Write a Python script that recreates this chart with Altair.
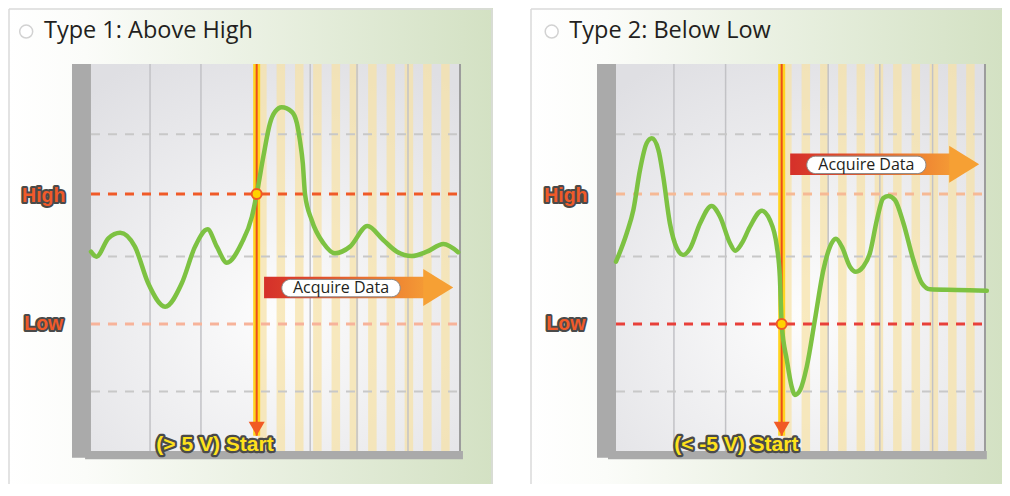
import altair as alt
import pandas as pd

# ---------------- values ----------------
# time runs 0..100 across each plot area, voltage in volts (High = +5 V, Low = -5 V)
above_t = [0, 1.5, 4.7, 7.9, 11.9, 15.5, 20.1, 24.6, 28.2, 31.6, 34.1, 36.8, 40.8, 43.6, 44.9,
           46.7, 48.5, 49.9, 51.7, 54.4, 55.8, 56.6, 57.4, 58.0, 59.8, 63.0, 66.1, 70.2, 74.9,
           79.2, 82.9, 86.9, 91.0, 95.5, 99.5]
above_v = [0.56, 0.18, 1.59, 2.02, 0.95, -1.87, -3.67, -1.87, 0.95, 2.28, 0.95, -0.28, 1.21, 3.25, 5.0,
           7.87, 10.44, 11.33, 11.67, 11.33, 10.44, 9.15, 7.36, 4.98, 3.0, 1.21, 0.44, 0.95, 2.54,
           1.46, 0.56, 0.23, 0.56, 1.15, 0.52]

below_t = [0, 2.9, 4.7, 6.5, 8.3, 9.7, 11.5, 12.8, 14.6, 16.5, 18.2, 20.1, 22.8, 25.9, 28.2, 30.9,
           32.3, 34.1, 36.3, 39.5, 41.7, 43.6, 44.4, 44.9, 46.3, 47.6, 48.5, 49.9, 51.7, 53.9, 56.2,
           58.0, 59.6, 61.2, 63.4, 65.0, 67.0, 68.8, 70.7, 72.4, 73.8, 75.6, 77.9, 80.6, 82.9, 85.1,
           92.3, 100.5]
below_v = [-0.21, 1.98, 3.77, 6.85, 8.90, 9.28, 8.38, 6.33, 2.75, 0.82, 0.31, 0.82, 2.75, 4.08, 3.25,
           1.21, 0.64, 1.21, 2.48, 3.72, 3.0, 0.95, -1.36, -5.0, -7.77, -9.82, -10.46, -10.08, -8.28,
           -4.69, -0.85, 0.95, 1.56, 0.95, -0.59, -0.98, -0.59, 0.44, 3.0, 4.67, 4.85, 4.54, 2.75,
           -0.08, -1.87, -2.33, -2.38, -2.44]

titles = ["Type 1: Above High", "Type 2: Below Low"]
start_labels = ["(> 5 V) Start", "(< -5 V) Start"]
level_names = ["High", "Low"]
level_values = [5, -5]
trigger_values = [5, -5]
gray_levels = [9.6, 0.2, -10.2]
vgrid_1 = [16.0, 29.8, 59.4, 72.1, 85.9]
vgrid_2 = [15.7, 29.7, 57.5, 71.5, 85.8]
stripe_starts = [45.3, 50.3, 55.3, 60.2, 65.2, 70.1, 75.1, 80.1, 85.0, 90.0, 94.9]
TRIGGER_T = 44.9

# ---------------- layout (data units of each panel) ----------------
V_TOP, V_BOT = 19.308, -17.31           # view extent in volts
P_TOP, P_BOT = 15.0, -14.77             # plot-area extent in volts
VIEW_H = 476
DT, DV = 0.27, 0.08                     # one pixel in data units

panels = [
    dict(title=titles[0], start=start_labels[0], t=above_t, v=above_v, trig=trigger_values[0],
         strong="High", width=485, tdom=(-22.49, 108.94), vgrid=vgrid_1, right_border=True,
         bottom_bar=(-1.6, 100.8), arrow_v=-2.19, arrow_x=(46.9, 90.0, 98.2), label_x=(51.7, 83.8),
         start_t=33.6, level_t=-12.8, circle_t=-17.56, title_t=-12.74),
    dict(title=titles[1], start=start_labels[1], t=below_t, v=below_v, trig=trigger_values[1],
         strong="Low", width=472, tdom=(-23.31, 104.61), vgrid=vgrid_2, right_border=False,
         bottom_bar=(-2.17, 100.5), arrow_v=7.29, arrow_x=(47.2, 90.5, 98.2), label_x=(51.7, 84.0),
         start_t=32.6, level_t=-13.6, circle_t=-17.43, title_t=-12.66),
]


def grad(stops, x1=0, y1=0, x2=1, y2=0):
    return alt.LinearGradient(gradient="linear", x1=x1, y1=y1, x2=x2, y2=y2,
                              stops=[alt.GradientStop(offset=o, color=c) for o, c in stops])


def make_panel(p):
    xs = alt.Scale(domain=list(p["tdom"]), nice=False, zero=False)
    ys = alt.Scale(domain=[V_BOT, V_TOP], nice=False, zero=False)

    def X(f):
        return alt.X(f, type="quantitative", scale=xs, axis=None)

    def Y(f):
        return alt.Y(f, type="quantitative", scale=ys, axis=None, stack=None)

    t0, t1 = p["tdom"]
    layers = []

    # card background and border
    card = pd.DataFrame([dict(a=t0, b=t1, c=V_TOP, d=V_BOT)])
    layers.append(alt.Chart(card).mark_rect(
        fill=grad([(0, "#ffffff"), (0.16, "#fbfcf9"), (1, "#d3e1c3")])
    ).encode(x=X("a"), x2="b", y=Y("c"), y2="d"))
    top_b = pd.DataFrame([dict(a=t0 + DT, b=t1 - DT, c=V_TOP - DV)])
    layers.append(alt.Chart(top_b).mark_rule(color="#dadada", strokeWidth=1.5).encode(
        x=X("a"), x2="b", y=Y("c")))
    side_t = [t0 + DT] + ([t1 - DT] if p["right_border"] else [])
    side_b = pd.DataFrame(dict(a=side_t, c=V_TOP - DV, d=V_BOT))
    layers.append(alt.Chart(side_b).mark_rule(color="#dadada", strokeWidth=1.5).encode(
        x=X("a"), y=Y("c"), y2="d"))

    # frame bars
    bars = pd.DataFrame([dict(a=-5.15, b=0, c=P_TOP, d=-15.3),
                         dict(a=p["bottom_bar"][0], b=p["bottom_bar"][1], c=P_BOT, d=-15.4)])
    layers.append(alt.Chart(bars).mark_rect(color="#aaaaaa").encode(
        x=X("a"), x2="b", y=Y("c"), y2="d"))

    # plot background with soft glow
    bg = pd.DataFrame([dict(a=0, b=100, c=P_TOP, d=P_BOT)])
    layers.append(alt.Chart(bg).mark_rect(
        fill=alt.RadialGradient(gradient="radial", x1=0.5, y1=0.65, x2=0.5, y2=0.65, r1=0, r2=0.75,
                                stops=[alt.GradientStop(offset=0, color="#fdfdfd"),
                                       alt.GradientStop(offset=1, color="#dfdfe3")])
    ).encode(x=X("a"), x2="b", y=Y("c"), y2="d"))

    # acquisition stripes
    st = pd.DataFrame([dict(a=s, b=min(s + 2.3, 100), c=P_TOP, d=P_BOT) for s in stripe_starts])
    layers.append(alt.Chart(st).mark_rect(color="#f6e2a6", opacity=0.72).encode(
        x=X("a"), x2="b", y=Y("c"), y2="d"))

    # vertical grid
    vg = pd.DataFrame(dict(a=p["vgrid"], c=P_TOP, d=P_BOT))
    layers.append(alt.Chart(vg).mark_rule(color="#c2c2c6", strokeWidth=1.5).encode(
        x=X("a"), y=Y("c"), y2="d"))
    edge = pd.DataFrame([dict(a=100, c=P_TOP, d=P_BOT)])
    layers.append(alt.Chart(edge).mark_rule(color="#9c9c9c", strokeWidth=2).encode(
        x=X("a"), y=Y("c"), y2="d"))

    # dashed horizontal lines
    hg = pd.DataFrame(dict(c=gray_levels, a=0, b=100))
    layers.append(alt.Chart(hg).mark_rule(color="#c8c8c8", strokeWidth=2, strokeDash=[9, 8]).encode(
        y=Y("c"), x=X("a"), x2="b"))
    strong_col = "#f05a28" if p["strong"] == "High" else "#e8403a"
    faint_col = "#f7b39a" if p["strong"] == "High" else "#f6b995"
    th = pd.DataFrame(dict(c=level_values, a=0, b=100,
                           col=[strong_col if n == p["strong"] else faint_col for n in level_names]))
    layers.append(alt.Chart(th).mark_rule(strokeWidth=3, strokeDash=[9, 8]).encode(
        y=Y("c"), x=X("a"), x2="b", color=alt.Color("col:N", scale=None)))

    # start (trigger) line
    sl = pd.DataFrame([dict(a=TRIGGER_T, c=P_TOP, d=-13.6)])
    layers.append(alt.Chart(sl).mark_rule(color="#ffd41f", strokeWidth=7).encode(
        x=X("a"), y=Y("c"), y2="d"))
    layers.append(alt.Chart(sl).mark_rule(color="#ea4e1c", strokeWidth=2).encode(
        x=X("a"), y=Y("c"), y2="d"))
    tri = pd.DataFrame([dict(a=TRIGGER_T, c=-13.05)])
    layers.append(alt.Chart(tri).mark_point(shape="triangle-down", size=256, filled=True,
                                            color="#f15a24", opacity=1).encode(x=X("a"), y=Y("c")))

    # waveform
    wf = pd.DataFrame(dict(t=p["t"], v=p["v"]))
    layers.append(alt.Chart(wf).mark_line(color="#7dc242", strokeWidth=4.5, interpolate="monotone",
                                          strokeCap="round", strokeJoin="round").encode(
        x=X("t"), y=Y("v")))

    # trigger point
    tp = pd.DataFrame([dict(a=TRIGGER_T, c=p["trig"])])
    layers.append(alt.Chart(tp).mark_point(shape="circle", size=100, filled=True, fill="#ffd200",
                                           stroke="#ef5a24", strokeWidth=2, opacity=1).encode(
        x=X("a"), y=Y("c")))

    # "Acquire Data" arrow: gradient body + head
    c0 = p["arrow_v"]
    xa, xh, xt = p["arrow_x"]
    body = pd.DataFrame([dict(a=xa, b=xh + 0.3, c=c0 + 0.83, d=c0 - 0.83)])
    layers.append(alt.Chart(body).mark_rect(
        fill=grad([(0, "#d5302a"), (0.3, "#df4a2b"), (1, "#f49a35")])
    ).encode(x=X("a"), x2="b", y=Y("c"), y2="d"))
    head = pd.DataFrame([dict(a=(xh + xt) / 2, c=c0)])
    layers.append(alt.Chart(head).mark_point(
        shape="M-0.81,-1L0.81,0L-0.81,1Z", size=1369, filled=True, fill="#f6a034", opacity=1,
        strokeWidth=0
    ).encode(x=X("a"), y=Y("c")))
    lab = pd.DataFrame([dict(a=p["label_x"][0], b=p["label_x"][1], c=c0 + 0.62, d=c0 - 0.72,
                             m=(p["label_x"][0] + p["label_x"][1]) / 2, y=c0 - 0.05,
                             txt="Acquire Data")])
    layers.append(alt.Chart(lab).mark_rect(fill="#ffffff", stroke="#8a8a8a", strokeWidth=1,
                                           cornerRadius=9).encode(
        x=X("a"), x2="b", y=Y("c"), y2="d"))
    layers.append(alt.Chart(lab).mark_text(font="Open Sans", fontSize=16, color="#231f20",
                                           align="center", baseline="middle").encode(
        x=X("m"), y=Y("y"), text="txt:N"))

    # start label with outline
    sdf = pd.DataFrame([dict(a=p["start_t"], c=-14.78, txt=p["start"])])
    for kw in (dict(fill="#4a4a4a", stroke="#4a4a4a", strokeWidth=4.5, strokeJoin="round"),
               dict(fill="#ffe21c")):
        layers.append(alt.Chart(sdf).mark_text(font="Liberation Sans", fontSize=21, fontWeight="bold",
                                               align="center", baseline="alphabetic", **kw).encode(
            x=X("a"), y=Y("c"), text="txt:N"))

    # High / Low labels with outline
    ldf = pd.DataFrame(dict(a=p["level_t"], c=[4.41, -5.46], txt=level_names))
    for kw in (dict(fill="#4a4a4a", stroke="#4a4a4a", strokeWidth=4, strokeJoin="round"),
               dict(fill="#f15a29")):
        layers.append(alt.Chart(ldf).mark_text(font="Liberation Sans", fontSize=19.5, fontWeight="bold",
                                               align="center", baseline="alphabetic", **kw).encode(
            x=X("a"), y=Y("c"), text="txt:N"))

    # title with radio circle
    cdf = pd.DataFrame([dict(a=p["circle_t"], c=17.5)])
    layers.append(alt.Chart(cdf).mark_point(shape="circle", size=169, filled=True, fill="#ffffff",
                                            stroke="#d2d2d2", strokeWidth=1.5, opacity=1).encode(
        x=X("a"), y=Y("c")))
    tdf = pd.DataFrame([dict(a=p["title_t"], c=17.02, txt=p["title"])])
    layers.append(alt.Chart(tdf).mark_text(font="Open Sans", fontSize=23.5, color="#231f20",
                                           align="left", baseline="alphabetic").encode(
        x=X("a"), y=Y("c"), text="txt:N"))

    return alt.layer(*layers).properties(width=p["width"], height=VIEW_H)


chart = alt.hconcat(*[make_panel(p) for p in panels], spacing=37).properties(
    padding=0, background="#ffffff"
).configure_view(stroke=None)

chart.save("out.html", embed_options={"renderer": "svg", "actions": False})
